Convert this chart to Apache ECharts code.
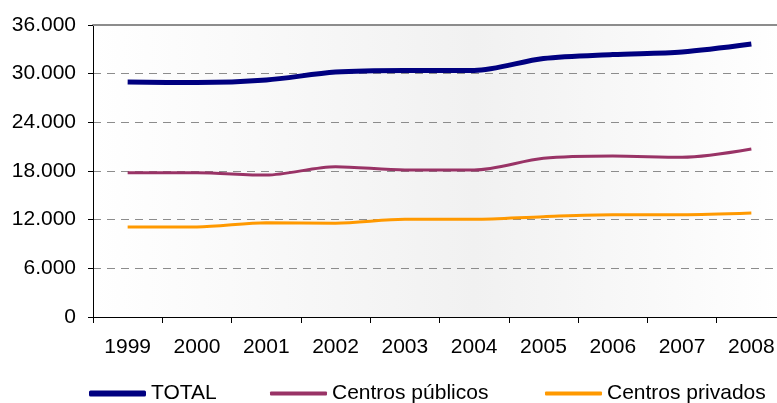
<!DOCTYPE html>
<html>
<head>
<meta charset="utf-8">
<script src="https://cdn.jsdelivr.net/npm/echarts@6/dist/echarts.min.js"></script>
<style>
  html, body { margin: 0; padding: 0; background: #fff; overflow: hidden; }
  #main { width: 786px; height: 403px; }
</style>
</head>
<body>
<div id="main"></div>
<script>
// datos
var years = ['1999', '2000', '2001', '2002', '2003', '2004', '2005', '2006', '2007', '2008'];
var total = [28970, 28900, 29220, 30200, 30400, 30400, 31870, 32360, 32670, 33650];
var publicos = [17790, 17790, 17500, 18530, 18120, 18120, 19560, 19850, 19690, 20710];
var privados = [11100, 11100, 11630, 11550, 12040, 12040, 12370, 12610, 12610, 12820];

var font = '"Liberation Sans", Arial, sans-serif';

var myChart = echarts.init(document.getElementById('main'));

function legendFor(name, left, h) {
  return {
    left: left,
    top: 383,
    padding: 0,
    icon: 'roundRect',
    itemWidth: 57,
    itemHeight: h,
    textStyle: { fontSize: 21, color: '#000', fontFamily: font },
    data: [name]
  };
}

var option = {
  animation: false,
  textStyle: { fontFamily: font },
  grid: {
    left: 93, right: 0, top: 25, bottom: 86,
    show: true,
    borderWidth: 0,
    backgroundColor: new echarts.graphic.LinearGradient(0, 0, 1, 0, [
      { offset: 0, color: '#ffffff' },
      { offset: 0.55, color: '#f1f1f1' },
      { offset: 1, color: '#ffffff' }
    ])
  },
  legend: [
    legendFor('TOTAL', 89, 6),
    legendFor('Centros públicos', 270, 4),
    legendFor('Centros privados', 545, 4)
  ],
  xAxis: [
    {
      type: 'category',
      data: years,
      boundaryGap: true,
      axisLine: { lineStyle: { color: '#000', width: 1 } },
      axisTick: { show: true, length: 6, lineStyle: { color: '#000' } },
      axisLabel: { color: '#000', fontSize: 21, margin: 20, fontFamily: font }
    },
    {
      type: 'category',
      data: years,
      position: 'top',
      axisLine: { lineStyle: { color: '#8c8c8c', width: 2 } },
      axisTick: { show: false },
      axisLabel: { show: false }
    }
  ],
  yAxis: {
    type: 'value',
    min: 0,
    max: 36000,
    interval: 6000,
    axisLine: { show: true, lineStyle: { color: '#000', width: 1 } },
    axisTick: { show: true, length: 5, lineStyle: { color: '#000' } },
    axisLabel: {
      color: '#000', fontSize: 21, margin: 17, fontFamily: font,
      formatter: function (v) {
        return String(v).replace(/\B(?=(\d{3})+(?!\d))/g, '.');
      }
    },
    splitLine: { show: true, lineStyle: { color: '#8c8c8c', type: [8, 6], width: 1 } }
  },
  series: [
    {
      name: 'TOTAL',
      type: 'line',
      data: total,
      smooth: 0.3,
      showSymbol: false,
      symbol: 'none',
      itemStyle: { color: '#000080' },
      lineStyle: { color: '#000080', width: 5 }
    },
    {
      name: 'Centros públicos',
      type: 'line',
      data: publicos,
      smooth: 0.3,
      showSymbol: false,
      symbol: 'none',
      itemStyle: { color: '#993366' },
      lineStyle: { color: '#993366', width: 3 }
    },
    {
      name: 'Centros privados',
      type: 'line',
      data: privados,
      smooth: 0.3,
      showSymbol: false,
      symbol: 'none',
      itemStyle: { color: '#FF9900' },
      lineStyle: { color: '#FF9900', width: 3 }
    }
  ]
};

myChart.setOption(option);
</script>
</body>
</html>
